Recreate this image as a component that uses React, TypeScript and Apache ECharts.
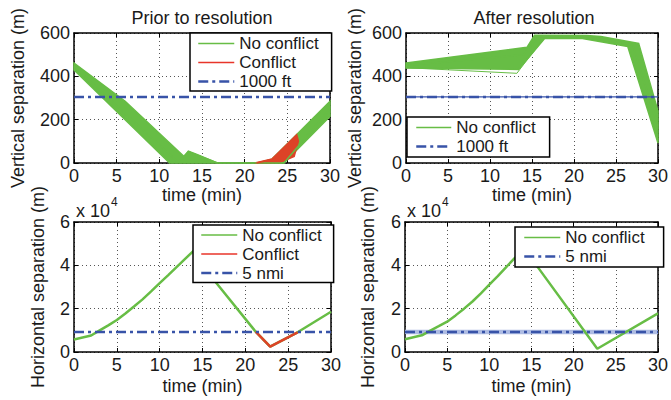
import React, { useEffect, useRef } from 'react';
import * as echarts from 'echarts';

const FONT = '"Liberation Sans", Arial, Helvetica, sans-serif';
const TEXT = '#1a1a1a';
const GREEN = '#67BD45';
const RED = '#DD4327';
const BLUE = '#3853A8';
const DASH_DOT = [10, 4, 3, 4];

// thresholds
const VERT_LIMIT_M = 304.8; // 1000 ft
const HORIZ_LIMIT_M = 9260; // 5 nmi

// axes
const TIME_MIN = 0;
const TIME_MAX = 30;
const TIME_STEP = 5;
const VERT_MAX = 600;
const VERT_STEP = 200;
const HORIZ_MAX = 60000;
const HORIZ_STEP = 20000;

// Prior to resolution: vertical separation envelope of the Monte-Carlo runs [time, m]
const PRIOR_BAND_UPPER = [[0, 461], [6, 285], [12.9, 30], [13.4, 55], [14.4, 40], [16.8, 0], [21.6, 0], [23.2, 18], [26.1, 131], [30, 285]];
const PRIOR_BAND_LOWER = [[0, 430], [11.2, 0], [24.6, 0], [30, 215]];
const PRIOR_CONFLICT_AREA = [[21.2, 0], [23.2, 18], [26.1, 131], [26.3, 100], [25.8, 30], [24.2, 3]];
const PRIOR_NOMINAL = [[0, 446], [12.2, 4], [13.4, 52], [16.8, 0], [24.6, 0], [30, 250]];
const PRIOR_CONFLICT_TRAJ = [[21.4, 0], [23.2, 16], [26.1, 120]];

// After resolution: vertical separation envelope
const AFTER_BAND_UPPER = [[0, 462], [14.4, 534], [15.3, 590], [21.5, 588], [23.2, 584], [27.7, 552], [30, 240]];
const AFTER_BAND_LOWER = [[0, 438], [13.4, 432], [16.5, 575], [21.0, 575], [26.4, 538], [30, 92]];
const AFTER_NOMINAL = [[0, 450], [14.0, 500], [15.8, 585], [22, 582], [27, 545], [30, 170]];
const AFTER_STRAY = [[0, 440], [13.2, 414], [14.3, 470], [16.5, 577]];

// Horizontal separation [time, m]
const PRIOR_HORIZ = [[0, 5800], [1, 6700], [2, 7600], [3, 10000], [4, 12300], [5, 14800], [6, 17800], [7, 21000], [8, 24300], [9, 28000], [10, 31800], [11, 35500], [12, 39300], [13, 43100], [14.2, 47600], [16.5, 32400], [21.2, 9400], [22.9, 2500], [26.1, 9100], [30, 18600]];
const PRIOR_HORIZ_CONFLICT = [[21.2, 9400], [22.9, 2500], [26.1, 9100]];
const AFTER_HORIZ = [[0, 5900], [1, 6800], [2, 7700], [3, 9900], [4, 11900], [5, 14000], [6, 16900], [7, 20000], [8, 23300], [9, 27100], [10, 31100], [11, 35000], [12, 39200], [13, 43300], [14.1, 47300], [15.7, 39400], [22.8, 1500], [30, 17800]];

const GRIDS = [
  { left: 74, top: 33, width: 256, height: 130 },
  { left: 406, top: 33, width: 256, height: 130 },
  { left: 74, top: 222, width: 257, height: 130 },
  { left: 405, top: 222, width: 257, height: 130 },
];

const txt = (size = 18) => ({ fontSize: size, fontFamily: FONT, color: TEXT });

function xAxes(gi: number, gap: number) {
  return [
    {
      gridIndex: gi, type: 'value', min: TIME_MIN, max: TIME_MAX, interval: TIME_STEP, position: 'bottom',
      axisLine: { show: true, onZero: false, lineStyle: { color: '#000', width: 1.5 } },
      axisTick: { show: true, inside: true, length: 4, lineStyle: { color: '#000' } },
      axisLabel: { ...txt(), margin: 4 },
      splitLine: { show: true, lineStyle: { color: '#555', type: [1, 3], width: 1 } },
      name: 'time (min)', nameLocation: 'middle', nameGap: gap, nameTextStyle: txt(),
    },
    {
      gridIndex: gi, type: 'value', min: TIME_MIN, max: TIME_MAX, interval: TIME_STEP, position: 'top',
      axisLine: { show: true, onZero: false, lineStyle: { color: '#000', width: 1.5 } },
      axisTick: { show: true, inside: true, length: 4, lineStyle: { color: '#000' } },
      axisLabel: { show: false }, splitLine: { show: false },
    },
  ];
}

function yAxes(gi: number, max: number, step: number, name: string, gap: number, fmt?: (v: number) => string) {
  return [
    {
      gridIndex: gi, type: 'value', min: 0, max, interval: step, position: 'left',
      axisLine: { show: true, onZero: false, lineStyle: { color: '#000', width: 1.5 } },
      axisTick: { show: true, inside: true, length: 4, lineStyle: { color: '#000' } },
      axisLabel: { ...txt(), margin: 4, formatter: fmt },
      splitLine: { show: true, lineStyle: { color: '#555', type: [1, 3], width: 1 } },
      name, nameLocation: 'middle', nameGap: gap, nameTextStyle: txt(),
    },
    {
      gridIndex: gi, type: 'value', min: 0, max, interval: step, position: 'right',
      axisLine: { show: true, onZero: false, lineStyle: { color: '#000', width: 1.5 } },
      axisTick: { show: true, inside: true, length: 4, lineStyle: { color: '#000' } },
      axisLabel: { show: false }, splitLine: { show: false },
    },
  ];
}

function band(gi: number, upper: number[][], lower: number[][], color: string) {
  const poly = upper.concat(lower.slice().reverse());
  return {
    type: 'custom', xAxisIndex: gi * 2, yAxisIndex: gi * 2, silent: true,
    data: [[0, 0]],
    renderItem: (_p: any, api: any) => ({
      type: 'polygon',
      shape: { points: poly.map((pt) => api.coord(pt)) },
      style: { fill: color, stroke: color, lineWidth: 1.5 },
    }),
  };
}

function poly(gi: number, pts: number[][], color: string) {
  return band(gi, pts, [], color);
}

function line(gi: number, name: string | undefined, data: number[][], color: string, width: number, type: any = 'solid') {
  const s: any = {
    type: 'line', xAxisIndex: gi * 2, yAxisIndex: gi * 2, data, symbol: 'none', showSymbol: false,
    silent: true, clip: true, lineStyle: { color, width, type }, itemStyle: { color },
  };
  if (name) s.name = name;
  return s;
}

const LEGEND_STYLE: Record<string, any> = {
  'No conflict': { color: GREEN, width: 1.5, type: 'solid' },
  'Conflict': { color: '#E8352A', width: 1.5, type: 'solid' },
  '1000 ft': { color: BLUE, width: 2.5, type: DASH_DOT },
  '5 nmi': { color: BLUE, width: 2.5, type: DASH_DOT },
};

function legend(left: number, top: number, names: string[], padding: number[], itemWidth: number) {
  return {
    left, top, orient: 'vertical', padding, itemWidth, itemHeight: 14, itemGap: 0,
    backgroundColor: '#fff', borderColor: '#000', borderWidth: 1.5, borderRadius: 0,
    selectedMode: false,
    itemStyle: { opacity: 0 },
    textStyle: { ...txt(17), lineHeight: 19, padding: [0, 0, 0, 0] },
    data: names.map((n) => ({ name: n, lineStyle: LEGEND_STYLE[n], itemStyle: { opacity: 0 } })),
  };
}

export default function App() {
  const ref = useRef<HTMLDivElement>(null);
  useEffect(() => {
    if (!ref.current) return;
    const chart = echarts.init(ref.current, undefined, { renderer: 'svg' });
    const fmt4 = (v: number) => String(v / 10000);
    const option: any = {
      animation: false,
      backgroundColor: '#fff',
      textStyle: { fontFamily: FONT },
      title: [
        { text: 'Prior to resolution', left: 202, top: 9, textAlign: 'center', padding: 0, textStyle: { ...txt(), fontWeight: 'normal' } },
        { text: 'After resolution', left: 534, top: 9, textAlign: 'center', padding: 0, textStyle: { ...txt(), fontWeight: 'normal' } },
      ],
      grid: GRIDS,
      xAxis: [...xAxes(0, 21), ...xAxes(1, 21), ...xAxes(2, 25), ...xAxes(3, 25)],
      yAxis: [
        ...yAxes(0, VERT_MAX, VERT_STEP, 'Vertical separation (m)', 47),
        ...yAxes(1, VERT_MAX, VERT_STEP, 'Vertical separation (m)', 42),
        ...yAxes(2, HORIZ_MAX, HORIZ_STEP, 'Horizontal separation (m)', 27, fmt4),
        ...yAxes(3, HORIZ_MAX, HORIZ_STEP, 'Horizontal separation (m)', 28, fmt4),
      ],
      legend: [
        legend(190, 33, ['No conflict', 'Conflict', '1000 ft'], [1, 13, 0, 7], 36),
        legend(407, 117, ['No conflict', '1000 ft'], [1, 14, 1, 8], 35),
        legend(193, 225, ['No conflict', 'Conflict', '5 nmi'], [0.5, 12, 0, 7], 36),
        legend(515, 227, ['No conflict', '5 nmi'], [1, 19, 1, 8], 36),
      ],
      graphic: [
        { type: 'text', x: 76, y: 211, style: { text: 'x 10', fontSize: 18, fontFamily: FONT, fill: TEXT, verticalAlign: 'middle' } },
        { type: 'text', x: 111, y: 201.5, style: { text: '4', fontSize: 12, fontFamily: FONT, fill: TEXT, verticalAlign: 'middle' } },
        { type: 'text', x: 407, y: 211, style: { text: 'x 10', fontSize: 18, fontFamily: FONT, fill: TEXT, verticalAlign: 'middle' } },
        { type: 'text', x: 442, y: 201.5, style: { text: '4', fontSize: 12, fontFamily: FONT, fill: TEXT, verticalAlign: 'middle' } },
      ],
      series: [
        // Prior, vertical
        band(0, PRIOR_BAND_UPPER, PRIOR_BAND_LOWER, GREEN),
        line(0, 'No conflict', PRIOR_NOMINAL, GREEN, 1.5),
        poly(0, PRIOR_CONFLICT_AREA, RED),
        line(0, 'Conflict', PRIOR_CONFLICT_TRAJ, RED, 1.5),
        line(0, '1000 ft', [[TIME_MIN, VERT_LIMIT_M], [TIME_MAX, VERT_LIMIT_M]], BLUE, 2.5, DASH_DOT),
        // After, vertical
        band(1, AFTER_BAND_UPPER, AFTER_BAND_LOWER, GREEN),
        line(1, 'No conflict', AFTER_NOMINAL, GREEN, 1.5),
        line(1, 'No conflict', AFTER_STRAY, GREEN, 1),
        line(1, undefined, [[TIME_MIN, VERT_LIMIT_M], [TIME_MAX, VERT_LIMIT_M]], BLUE, 1.2),
        line(1, '1000 ft', [[TIME_MIN, VERT_LIMIT_M], [TIME_MAX, VERT_LIMIT_M]], BLUE, 2.5, DASH_DOT),
        // Prior, horizontal
        line(2, 'No conflict', PRIOR_HORIZ, GREEN, 2.5),
        line(2, 'Conflict', PRIOR_HORIZ_CONFLICT, RED, 2.5),
        line(2, '5 nmi', [[TIME_MIN, HORIZ_LIMIT_M], [TIME_MAX, HORIZ_LIMIT_M]], BLUE, 2.5, DASH_DOT),
        // After, horizontal
        line(3, undefined, [[TIME_MIN, HORIZ_LIMIT_M], [TIME_MAX, HORIZ_LIMIT_M]], '#AEBCE3', 4.5),
        line(3, 'No conflict', AFTER_HORIZ, GREEN, 2.5),
        line(3, '5 nmi', [[TIME_MIN, HORIZ_LIMIT_M], [TIME_MAX, HORIZ_LIMIT_M]], BLUE, 2.5, DASH_DOT),
      ],
    };
    chart.setOption(option);
    return () => chart.dispose();
  }, []);
  return <div ref={ref} style={{ position: 'fixed', left: 0, top: 0, width: 671, height: 400, background: '#fff' }} />;
}
